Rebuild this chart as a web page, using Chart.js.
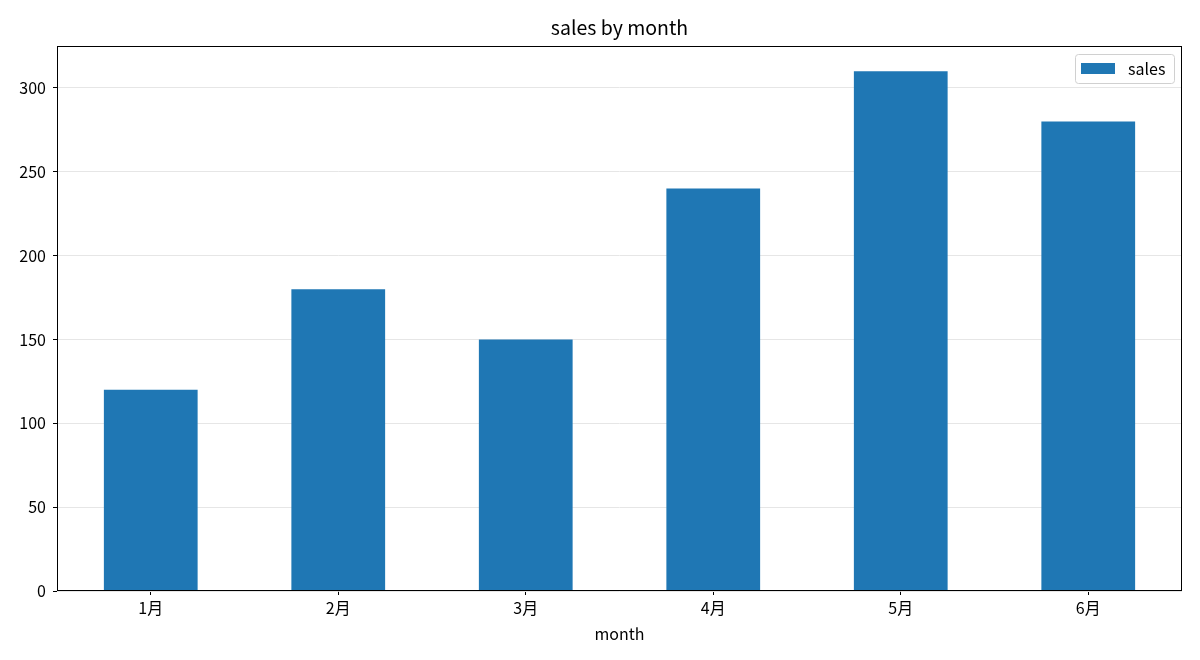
<!DOCTYPE html>
<html><head><meta charset="utf-8">
<script src="https://cdn.jsdelivr.net/npm/chart.js@4"></script>
<style>html,body{margin:0;padding:0;background:#fff}#wrap{width:1200px;height:660px}</style>
</head><body><div id="wrap"><canvas id="c" width="1200" height="660"></canvas></div>
<script>
const categories = ['1月','2月','3月','4月','5月','6月'];
const salesValues = [120, 180, 150, 240, 310, 280];
const yTicks = [0, 50, 100, 150, 200, 250, 300];
const seriesLabel = 'sales';
const chartTitle = 'sales by month';
const xTitle = 'month';

const FONT = "'Noto Sans CJK SC','Noto Sans',sans-serif";
const TICK_SIZE = 16;

const frameAndLegend = {
  id: 'frameAndLegend',
  afterDraw(chart) {
    const {ctx, chartArea: a} = chart;
    ctx.save();
    // title centered over plot area
    ctx.fillStyle = '#000';
    ctx.font = '19.5px ' + FONT;
    ctx.textAlign = 'center';
    ctx.textBaseline = 'middle';
    ctx.fillText(chartTitle, (a.left + a.right) / 2, 28);
    // frame
    ctx.strokeStyle = '#000'; ctx.lineWidth = 1;
    ctx.strokeRect(Math.round(a.left)+0.5, Math.round(a.top)+0.5, Math.round(a.right-a.left)-1, Math.round(a.bottom-a.top)-1);
    // legend
    const bx = a.right - 107, by = a.top + 8, bw = 99, bh = 29;
    ctx.fillStyle = 'rgba(255,255,255,0.8)';
    ctx.strokeStyle = '#d0d0d0';
    ctx.beginPath();
    ctx.roundRect(bx+0.5, by+0.5, bw, bh, 3);
    ctx.fill(); ctx.stroke();
    const ds = chart.data.datasets[0];
    ctx.fillStyle = ds.backgroundColor;
    ctx.fillRect(bx+6, by+9, 34, 11);
    ctx.fillStyle = '#000';
    ctx.font = TICK_SIZE + 'px ' + FONT;
    ctx.textBaseline = 'middle';
    ctx.textAlign = 'left';
    ctx.fillText(ds.label, bx+53, by+15);
    ctx.restore();
  }
};

new Chart(document.getElementById('c'), {
  type: 'bar',
  data: {
    labels: categories,
    datasets: [{
      label: seriesLabel,
      data: salesValues,
      backgroundColor: '#1f77b4',
      barPercentage: 0.5,
      categoryPercentage: 1.0
    }]
  },
  options: {
    responsive: false,
    animation: false,
    devicePixelRatio: 1,
    layout: { padding: { left: 0, right: 18, top: 46, bottom: 0 } },
    plugins: {
      legend: { display: false },
      tooltip: { enabled: false },
      title: { display: false }
    },
    scales: {
      x: {
        offset: true,
        afterFit(scale) { scale.height = 69; },
        grid: { display: true, drawOnChartArea: false, offset: false, tickColor: '#000', tickLength: 4 },
        border: { display: false },
        ticks: { color: '#000', font: { family: FONT, size: TICK_SIZE }, padding: 3, maxRotation: 0 },
        title: { display: true, text: xTitle, color: '#000', font: { family: FONT, size: TICK_SIZE }, padding: { top: 2, bottom: 16 } }
      },
      y: {
        min: 0, max: 325,
        afterBuildTicks(scale) { scale.ticks = yTicks.map(v => ({ value: v })); },
        afterFit(scale) { scale.width = 57; },
        grid: { color: '#e6e6e6', tickColor: '#000', tickLength: 4, lineWidth: 1 },
        border: { display: false },
        ticks: { color: '#000', font: { family: FONT, size: TICK_SIZE }, padding: 7 }
      }
    }
  },
  plugins: [frameAndLegend]
});
</script>
</body></html>
